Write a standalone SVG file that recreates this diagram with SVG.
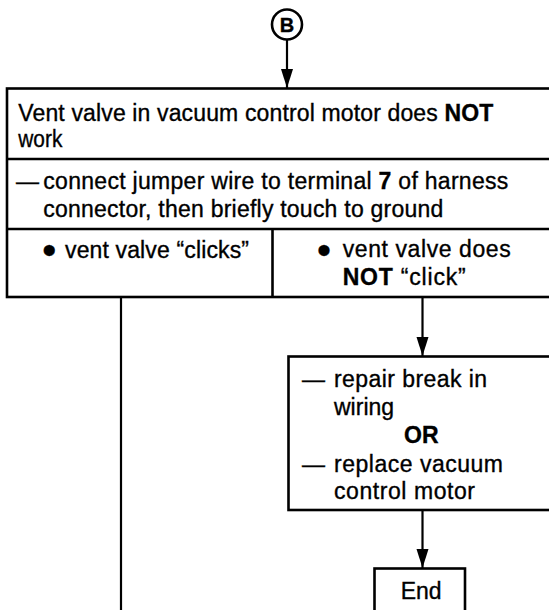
<svg xmlns="http://www.w3.org/2000/svg" width="549" height="610" viewBox="0 0 549 610">
<defs>
<style>
text{font-family:"Liberation Sans",Arial,Helvetica,sans-serif;font-size:23px;fill:#000;stroke:#000;stroke-width:0.35}
.bd{font-weight:bold}
.box{fill:#fff;stroke:#000;stroke-width:2.6}
.ln{fill:none;stroke:#000;stroke-width:2.6}
.cn{fill:none;stroke:#000;stroke-width:2.2}
.bul{font-size:40px}
</style>
<marker id="ah" markerUnits="userSpaceOnUse" markerWidth="20" markerHeight="14" viewBox="0 -7 20 14" refX="19" refY="0" orient="auto">
<path d="M0,-6 L19,0 L0,6 z" fill="#000"/>
</marker>
</defs>
<rect width="549" height="610" fill="#fff"/>

<g id="connectors">
<line class="cn" x1="287" y1="40" x2="287" y2="88" marker-end="url(#ah)"/>
<line class="cn" x1="121" y1="297" x2="121" y2="612"/>
<line class="cn" x1="422.5" y1="297" x2="422.5" y2="356" marker-end="url(#ah)"/>
<line class="cn" x1="422.5" y1="510" x2="422.5" y2="568" marker-end="url(#ah)"/>
</g>

<g id="connector-B">
<circle cx="287" cy="24.5" r="15" fill="#fff" stroke="#000" stroke-width="2.6"/>
<text class="bd" x="287" y="31.5" text-anchor="middle" style="font-size:20px">B</text>
</g>

<g id="main-box">
<rect class="box" x="7" y="88.5" width="560" height="208.5"/>
<line class="ln" x1="7" y1="159" x2="567" y2="159"/>
<line class="ln" x1="7" y1="229" x2="567" y2="229"/>
<line class="ln" x1="272.5" y1="229" x2="272.5" y2="297"/>
<text x="18.3" y="120.5" textLength="475" lengthAdjust="spacing">Vent valve in vacuum control motor does <tspan class="bd">NOT</tspan></text>
<text x="18.3" y="146.5" textLength="44" lengthAdjust="spacingAndGlyphs">work</text>
<text x="16" y="189">—</text>
<text x="43.3" y="189" textLength="465" lengthAdjust="spacing">connect jumper wire to terminal <tspan class="bd">7</tspan> of harness</text>
<text x="43.3" y="216.7" textLength="400" lengthAdjust="spacing">connector, then briefly touch to ground</text>
</g>

<g id="result-clicks">
<text class="bul" x="49.3" y="264" text-anchor="middle">•</text>
<text x="65" y="258.3" textLength="184" lengthAdjust="spacing">vent valve “clicks”</text>
</g>

<g id="result-no-click">
<text class="bul" x="324" y="264" text-anchor="middle">•</text>
<text x="342.7" y="257" textLength="168" lengthAdjust="spacing">vent valve does</text>
<text x="342.7" y="285" textLength="123" lengthAdjust="spacing"><tspan class="bd">NOT</tspan> “click”</text>
</g>

<g id="repair-box">
<rect class="box" x="288.5" y="356.5" width="300" height="153.5"/>
<text x="302" y="386.7">—</text>
<text x="334" y="386.7" textLength="153" lengthAdjust="spacing">repair break in</text>
<text x="334" y="415">wiring</text>
<text class="bd" x="404" y="442.7">OR</text>
<text x="302" y="471.7">—</text>
<text x="334" y="471.7" textLength="169" lengthAdjust="spacing">replace vacuum</text>
<text x="334" y="499.3" textLength="141" lengthAdjust="spacing">control motor</text>
</g>

<g id="end-box">
<rect class="box" x="374.5" y="568.5" width="90.5" height="50"/>
<text x="400.7" y="599.3">End</text>
</g>
</svg>
